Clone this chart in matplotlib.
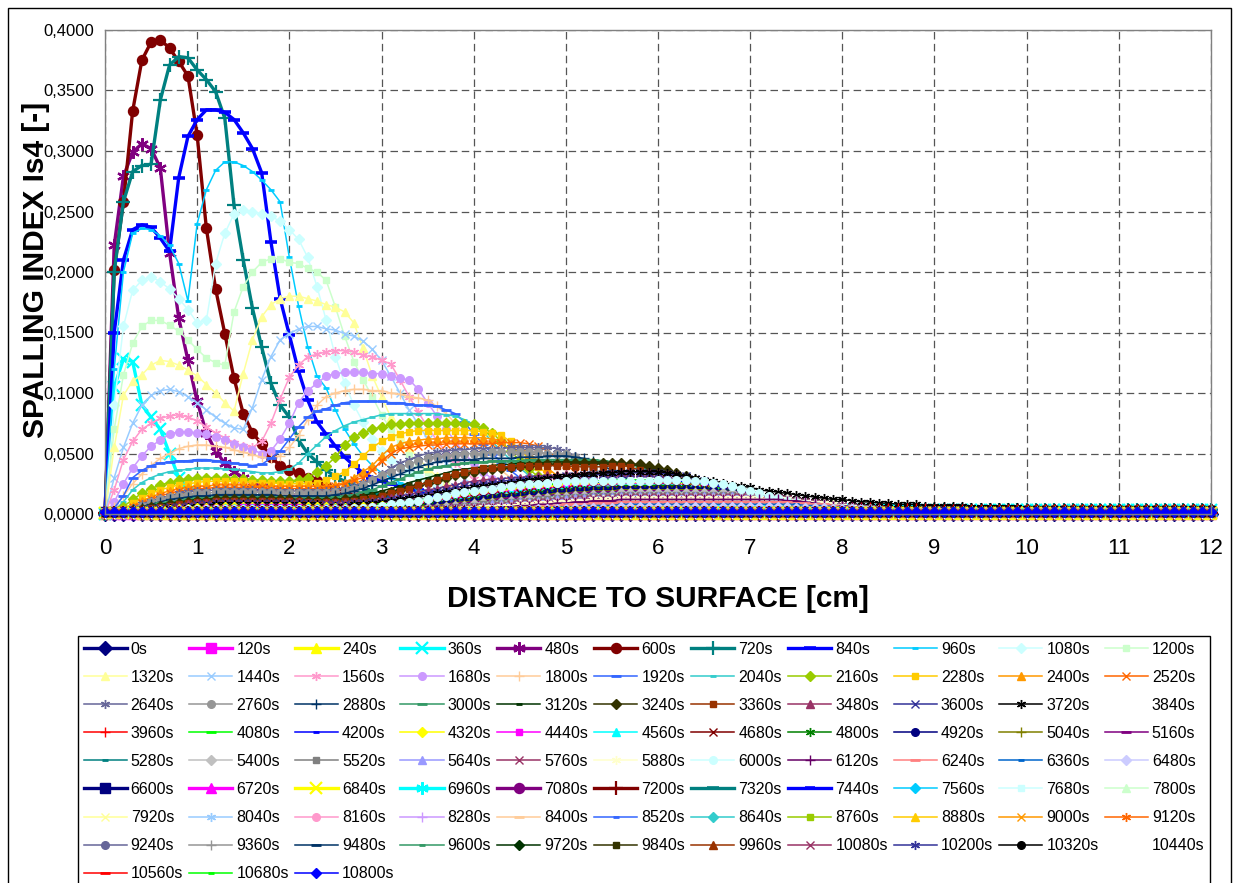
import numpy as np
import matplotlib.pyplot as plt
from matplotlib.patches import Rectangle
from matplotlib.ticker import FuncFormatter

plt.rcParams['font.family'] = ['Liberation Sans', 'DejaVu Sans']

W, H = 1239, 883

# distance from surface [cm], one node every 0.1 cm
depth = np.round(np.arange(121) * 0.1, 1)

# spalling index Is4 per time step, in 1e-3, node by node from the surface.
# beyond the listed nodes the curve stays flat at its tail value
is4_240 = [0, 3, 2, 1]
is4_360 = [0, 105, 128, 126, 90, 80, 70, 50, 30, 18, 11, 7, 5, 4, 3]
is4_480 = [0, 222, 279, 299, 306, 302, 286, 216, 162, 127, 93, 67, 52, 42, 35, 30, 26, 22, 19, 16, 13, 11, 9, 8, 7, 6, 5, 4]
is4_600 = [0, 202, 258, 333, 375, 390, 392, 385, 374, 362, 313, 236, 186, 149, 112, 83, 67, 58, 47, 40, 36, 34, 30, 27,
           23, 20, 18, 15, 13, 11, 9, 7, 6, 5, 4]
is4_720 = [0, 200, 258, 283, 288, 289, 342, 371, 378, 377, 367, 359, 349, 327, 255, 210, 170, 138, 108, 90, 80, 61, 50,
           43, 36, 31, 27, 24, 21, 17, 14, 12, 10, 9, 7, 6, 5, 4]
is4_840 = [0, 150, 210, 235, 239, 237, 228, 217, 278, 312, 326, 334, 334, 332, 326, 315, 302, 282, 225, 178, 148, 118,
           94, 76, 66, 56, 47, 40, 34, 30, 27, 25, 23, 22, 20, 18, 15, 12, 10, 8, 7, 6, 5, 4]
is4_960 = [0, 120, 200, 232, 236, 235, 230, 222, 207, 176, 240, 268, 284, 291, 291, 288, 283, 276, 268, 258, 212, 172,
           138, 114, 104, 86, 70, 58, 48, 40, 34, 30, 26, 23, 20, 18, 16, 14, 12, 10, 9, 8, 7, 6, 5, 4]
is4_1080 = [0, 90, 155, 185, 193, 196, 192, 186, 178, 169, 158, 160, 207, 232, 248, 251, 250, 248, 246, 242, 235, 227,
            212, 188, 160, 130, 108, 90, 76, 62, 52, 45, 40, 35, 31, 27, 24, 21, 18, 16, 14, 12, 10, 9, 8, 7, 6, 5, 4]
is4_1200 = [0, 70, 115, 141, 155, 160, 160, 156, 151, 144, 136, 129, 125, 123, 167, 188, 200, 208, 211, 211, 208, 207,
            203, 200, 193, 171, 147, 126, 111, 97, 82, 70, 60, 50, 42, 35, 30, 25, 21, 18, 15, 13, 11, 9, 8, 7, 6, 5, 4]
is4_1320 = [0, 55, 98, 110, 115, 123, 127, 126, 123, 119, 114, 107, 100, 92, 85, 116, 144, 163, 173, 178, 180, 180, 178,
            176, 173, 171, 167, 158, 137, 114, 97, 80, 65, 55, 46, 38, 31, 26, 21, 18, 14, 12, 10, 8, 7, 6, 5, 4]
is4_1440 = [0, 30, 55, 75, 90, 98, 102, 103, 101, 97, 92, 86, 80, 75, 71, 70, 88, 111, 130, 144, 149, 153, 155, 155,
            153, 152, 149, 147, 143, 136, 127, 114, 100, 86, 74, 62, 51, 42, 35, 29, 24, 20, 16, 13, 11, 9, 8, 7, 6, 5, 4]
is4_1560 = [0, 20, 45, 60, 70, 75, 79, 81, 82, 80, 77, 72, 67, 63, 59, 56, 55, 60, 75, 95, 113, 123, 130, 132, 134,
            135, 135, 134, 131, 130, 127, 124, 111, 97, 84, 72, 61, 51, 42, 35, 29, 24, 20, 16, 13, 11, 9, 8, 7, 6, 5, 4]
is4_1680 = [0, 10, 25, 38, 48, 56, 61, 66, 68, 68, 67, 66, 64, 61, 58, 55, 53, 50, 52, 62, 75, 92, 102, 108, 114, 116,
            117, 117, 117, 116, 116, 114, 112, 111, 103, 92, 81, 70, 60, 50, 42, 35, 29, 24, 20, 16, 13, 11, 9, 8, 7,
            6, 5, 4]
is4_1800 = [0, 6, 15, 25, 33, 40, 46, 50, 54, 56, 57, 57, 56, 55, 53, 51, 49, 47, 46, 48, 55, 65, 78, 90, 97, 100, 102,
            103, 103, 102, 102, 100, 99, 97, 96, 94, 89, 83, 75, 66, 58, 50, 43, 36, 30, 25, 21, 17, 14, 12, 10, 8, 7,
            6, 5, 4]
is4_1920 = [0, 5, 15, 30, 36, 40, 42, 43, 44, 44, 45, 45, 44, 43, 42, 41, 40, 41, 46, 52, 62, 72, 80, 85, 87, 90, 92,
            93, 93, 93, 93, 92, 92, 91, 90, 90, 89, 86, 83, 76, 66, 58, 50, 43, 36, 30, 25, 21, 17, 14, 12, 10, 8, 7,
            6, 5, 4]
is4_2040 = [0, 3, 10, 20, 26, 30, 33, 35, 36, 37, 38, 38, 38, 37, 37, 36, 35, 34, 34, 35, 37, 42, 50, 57, 64, 69, 73,
            76, 78, 80, 82, 83, 83, 83, 83, 83, 83, 82, 81, 78, 74, 68, 60, 52, 45, 38, 32, 27, 23, 19, 16, 13, 11, 9,
            8, 7, 6, 5, 4]
is4_2160 = [0, 2, 6, 12, 17, 21, 24, 26, 28, 29, 30, 30, 30, 30, 29, 29, 28, 28, 27, 27, 27, 28, 30, 35, 40, 47, 57,
            64, 67, 70, 72, 74, 74, 75, 75, 75, 75, 75, 75, 74, 74, 71, 67, 60, 52, 44, 37, 31, 26, 22, 18, 15, 13, 11,
            9, 8, 7, 6, 5, 4]
is4_2280 = [0, 1, 4, 9, 13, 17, 20, 22, 24, 25, 26, 27, 27, 27, 27, 27, 26, 26, 26, 25, 25, 25, 25, 26, 28, 31, 35,
            41, 48, 55, 60, 64, 66, 68, 69, 69, 69, 69, 69, 69, 69, 68, 67, 65, 60, 53, 46, 39, 33, 28, 23, 19, 16, 13,
            11, 9, 8, 7, 6, 5, 4]
is4_2400 = [0, 1, 3, 7, 11, 14, 17, 19, 21, 22, 23, 23, 24, 24, 24, 24, 23, 23, 23, 23, 23, 23, 23, 23, 23, 24, 26,
            30, 35, 40, 48, 55, 58, 60, 61, 62, 62, 63, 63, 63, 63, 63, 62, 61, 58, 55, 50, 44, 38, 32, 27, 23, 19, 16,
            13, 11, 9, 8, 7, 6, 5, 4]
is4_2520 = [0, 1, 3, 6, 9, 12, 15, 17, 19, 20, 21, 21, 22, 22, 22, 22, 22, 22, 21, 21, 21, 21, 21, 21, 22, 23, 25,
            28, 30, 36, 44, 50, 54, 55, 56, 57, 57, 58, 58, 58, 58, 58, 58, 59, 59, 59, 58, 56, 52, 47, 41, 35, 30, 25,
            21, 17, 14, 12, 10, 8, 7, 6, 5, 4]
is4_2640 = [0, 1, 2, 5, 8, 11, 13, 15, 17, 18, 19, 19, 20, 20, 20, 20, 20, 19, 19, 19, 19, 19, 19, 19, 19, 20, 21,
            23, 26, 29, 33, 38, 42, 45, 48, 50, 51, 52, 53, 53, 54, 54, 54, 54, 55, 55, 55, 55, 55, 54, 52, 48, 43, 37,
            31, 26, 22, 18, 15, 12, 10, 8, 7, 6, 5, 4]
is4_2760 = [0, 1, 2, 4, 7, 10, 12, 14, 15, 16, 17, 17, 18, 18, 18, 18, 18, 18, 18, 17, 17, 17, 17, 17, 17, 18, 19,
            21, 24, 28, 32, 35, 38, 41, 44, 46, 47, 48, 49, 50, 50, 50, 51, 51, 51, 51, 51, 51, 50, 50, 50, 47, 43, 38,
            33, 28, 24, 20, 17, 14, 12, 10, 8, 7, 6, 5, 4]
is4_2880 = [0, 1, 2, 4, 6, 8, 10, 12, 13, 14, 15, 15, 16, 16, 16, 16, 16, 16, 16, 15, 15, 15, 15, 15, 15, 16, 17,
            19, 21, 24, 27, 30, 33, 36, 39, 41, 43, 44, 45, 45, 45, 46, 46, 46, 46, 47, 47, 47, 48, 48, 48, 47, 46, 44,
            40, 36, 32, 28, 24, 20, 17, 14, 12, 10, 8, 7, 6, 5, 4]
is4_3000 = [0, 1, 2, 3, 5, 7, 9, 10, 11, 12, 13, 13, 14, 14, 14, 14, 14, 14, 14, 14, 13, 13, 13, 13, 13, 14, 15,
            16, 18, 20, 23, 26, 29, 32, 35, 37, 39, 40, 41, 42, 43, 43, 44, 44, 44, 44, 45, 45, 45, 45, 45, 45, 45, 45,
            44, 43, 42, 41, 39, 37, 34, 28, 23, 19, 16, 13, 11, 9, 8, 7, 6, 5, 4]
is4_3120 = [0, 1, 2, 3, 5, 7, 8, 9, 10, 11, 12, 12, 13, 13, 13, 13, 13, 13, 13, 13, 12, 12, 12, 12, 12, 12, 13, 14,
            15, 17, 19, 21, 23, 26, 28, 30, 32, 34, 36, 37, 38, 39, 40, 41, 41, 42, 42, 42, 43, 43, 43, 43, 43, 43, 43,
            42, 42, 41, 40, 38, 36, 34, 31, 28, 25, 22, 20, 18, 16, 14, 12, 11, 10, 9, 8, 7, 6, 5, 5, 4]
is4_3240 = [0, 1, 2, 3, 4, 6, 7, 8, 9, 10, 11, 11, 12, 12, 12, 12, 12, 12, 12, 12, 12, 11, 11, 11, 11, 11, 12, 12,
            13, 14, 16, 18, 20, 22, 24, 26, 28, 30, 32, 33, 35, 36, 37, 38, 39, 40, 40, 41, 41, 41, 42, 42, 42, 42, 42,
            42, 42, 41, 41, 40, 38, 36, 34, 31, 28, 25, 22, 20, 18, 16, 14, 12, 11, 10, 9, 8, 7, 6, 5, 4]
is4_3360 = [0, 1, 2, 3, 4, 5, 6, 7, 8, 9, 10, 10, 11, 11, 11, 11, 11, 11, 11, 11, 11, 11, 10, 10, 10, 10, 11, 11,
            12, 13, 15, 17, 19, 21, 24, 26, 28, 31, 33, 35, 36, 38, 38, 39, 39, 40, 40, 40, 40, 40, 40, 39, 39, 39, 39,
            40, 40, 39, 36, 34, 32, 30, 28, 26, 24, 22, 20, 18, 16, 14, 13, 11, 10, 9, 8, 7, 6, 5, 5, 4]
is4_3480 = [0, 1, 1, 2, 3, 4, 5, 6, 7, 8, 9, 9, 10, 10, 10, 10, 10, 10, 10, 10, 10, 10, 9, 9, 9, 9, 9, 10, 10, 11,
            12, 13, 15, 16, 18, 20, 21, 23, 24, 26, 27, 28, 29, 29, 30, 30, 31, 31, 32, 32, 33, 33, 33, 34, 34, 34, 35,
            35, 35, 35, 34, 33, 32, 30, 28, 26, 23, 21, 19, 17, 16, 15, 14, 13, 12, 11, 10, 9, 8, 8, 7, 6, 6, 5, 5, 4]
is4_3600 = [0, 1, 1, 2, 3, 4, 5, 6, 6, 7, 8, 8, 9, 9, 9, 9, 9, 9, 9, 9, 9, 9, 9, 8, 8, 8, 8, 9, 9, 10,
            11, 12, 13, 14, 16, 17, 19, 20, 22, 23, 24, 25, 26, 27, 28, 28, 29, 29, 30, 30, 31, 31, 32, 32, 33, 33, 33,
            34, 34, 34, 34, 33, 32, 31, 29, 27, 25, 23, 21, 19, 17, 16, 14, 13, 12, 11, 10, 9, 8, 7, 7, 6, 5, 5, 4]
is4_3720 = [0, 1, 1, 2, 3, 3, 4, 5, 5, 6, 7, 7, 8, 8, 8, 8, 8, 8, 8, 8, 8, 8, 8, 8, 7, 7, 7, 8, 8, 9,
            10, 11, 12, 13, 14, 15, 17, 18, 19, 21, 22, 23, 24, 25, 26, 27, 28, 29, 30, 31, 31, 32, 33, 33, 34, 34, 35,
            35, 35, 35, 35, 34, 33, 31, 30, 28, 27, 26, 24, 23, 22, 20, 19, 18, 17, 16, 15, 14, 13, 12, 12, 11, 10, 10,
            9, 9, 8, 8, 8, 7, 7, 7, 7, 7, 6, 6, 6, 6, 6, 6]
is4_3960 = [0, 0, 1, 1, 1, 2, 2, 2, 3, 3, 3, 3, 3, 3, 3, 3, 3, 3, 3, 3, 3, 3, 3, 3, 3, 3, 3, 3, 4, 4,
            4, 5, 5, 6, 6, 7, 7, 8, 8, 9, 9, 9, 10, 10, 10, 10, 10, 10, 10, 10, 10, 10, 10, 10, 10, 10, 10, 10, 10, 10,
            10, 10, 10, 10, 10, 10, 10, 10, 10, 10, 10, 9, 9, 9, 8, 8, 8, 7, 7, 7, 6, 6, 6, 6, 5, 5, 5, 5, 5, 5]
is4_4080 = [0, 0, 1, 2, 2, 3, 4, 4, 5, 5, 6, 6, 6, 7, 7, 7, 7, 7, 7, 7, 7, 7, 7, 6, 6, 6, 6, 6, 7, 7,
            8, 8, 9, 10, 11, 12, 13, 14, 15, 16, 17, 18, 19, 20, 21, 22, 23, 24, 24, 25, 26, 26, 27, 27, 27, 28, 28, 28,
            28, 28, 28, 28, 27, 27, 26, 25, 23, 21, 19, 17, 15, 13, 12, 10, 9, 8, 7, 6, 5, 5, 4, 4, 3, 3, 3]
is4_4200 = [0, 0, 1, 1, 2, 3, 3, 4, 4, 5, 5, 6, 6, 6, 6, 7, 7, 7, 7, 7, 7, 7, 6, 6, 6, 6, 6, 6, 6, 7,
            7, 8, 8, 9, 10, 11, 12, 13, 14, 15, 16, 17, 18, 19, 20, 20, 21, 22, 23, 23, 24, 24, 25, 25, 26, 26, 26, 27,
            27, 27, 27, 27, 27, 27, 26, 25, 24, 22, 20, 18, 16, 14, 12, 11, 10, 8, 7, 6, 6, 5, 4, 4, 3, 3, 3]
is4_4320 = [0, 0, 1, 1, 2, 2, 3, 3, 4, 4, 5, 5, 5, 6, 6, 6, 6, 6, 6, 6, 6, 6, 6, 6, 6, 5, 5, 5, 6, 6,
            7, 7, 8, 9, 10, 11, 12, 13, 14, 15, 16, 17, 18, 19, 20, 21, 21, 22, 23, 23, 24, 24, 25, 25, 25, 26, 26, 26,
            26, 26, 26, 25, 25, 24, 23, 22, 20, 18, 16, 14, 12, 11, 9, 8, 7, 6, 5, 5, 4, 4, 3, 3, 3, 3, 3]
is4_4440 = [0, 0, 1, 1, 2, 2, 3, 3, 4, 4, 4, 5, 5, 5, 5, 6, 6, 6, 6, 6, 6, 6, 5, 5, 5, 5, 5, 5, 5, 6,
            6, 7, 7, 8, 9, 10, 11, 12, 13, 14, 15, 16, 17, 18, 19, 19, 20, 21, 21, 22, 22, 23, 23, 24, 24, 24, 25, 25,
            25, 25, 25, 25, 24, 24, 23, 22, 21, 19, 17, 15, 13, 12, 10, 9, 8, 7, 6, 5, 5, 4, 4, 3, 3, 3, 3]
is4_4560 = [0, 0, 0, 1, 1, 2, 2, 3, 3, 3, 4, 4, 4, 5, 5, 5, 5, 5, 5, 5, 5, 5, 5, 5, 5, 5, 5, 5, 5, 5,
            6, 6, 7, 8, 8, 9, 10, 11, 12, 13, 14, 15, 16, 17, 18, 18, 19, 20, 20, 21, 21, 22, 22, 23, 23, 23, 24, 24,
            24, 24, 24, 24, 24, 23, 23, 22, 21, 20, 18, 16, 14, 13, 11, 10, 8, 7, 6, 5, 5, 4, 4, 3, 3, 3, 3]
is4_4680 = [0, 0, 0, 1, 1, 2, 2, 2, 3, 3, 3, 4, 4, 4, 4, 4, 5, 5, 5, 5, 5, 5, 5, 4, 4, 4, 4, 4, 5, 5,
            5, 6, 6, 7, 8, 9, 9, 10, 11, 12, 13, 14, 15, 16, 16, 17, 18, 18, 19, 20, 20, 21, 21, 22, 22, 22, 23, 23,
            23, 23, 23, 23, 23, 22, 22, 21, 20, 19, 17, 15, 14, 12, 11, 9, 8, 7, 6, 5, 4, 4, 3, 3, 3, 3, 2]
is4_4800 = [0, 0, 0, 1, 1, 1, 2, 2, 2, 3, 3, 3, 4, 4, 4, 4, 4, 4, 4, 4, 4, 4, 4, 4, 4, 4, 4, 4, 4, 4,
            5, 5, 6, 6, 7, 8, 9, 9, 10, 11, 12, 13, 14, 15, 15, 16, 17, 17, 18, 19, 19, 20, 20, 21, 21, 21, 22, 22,
            22, 22, 22, 22, 22, 22, 21, 21, 20, 19, 18, 16, 15, 13, 12, 10, 9, 8, 7, 6, 5, 4, 4, 3, 3, 3, 2]
is4_4920 = [0, 0, 0, 1, 1, 1, 2, 2, 2, 2, 3, 3, 3, 3, 4, 4, 4, 4, 4, 4, 4, 4, 4, 4, 4, 4, 4, 4, 4, 4,
            4, 5, 5, 6, 6, 7, 8, 9, 9, 10, 11, 12, 13, 14, 14, 15, 16, 16, 17, 18, 18, 19, 19, 20, 20, 20, 21, 21,
            21, 21, 21, 21, 21, 21, 21, 20, 20, 19, 18, 17, 15, 14, 12, 11, 10, 8, 7, 6, 5, 5, 4, 3, 3, 3, 2]
is4_5040 = [0, 0, 0, 0, 1, 1, 1, 2, 2, 2, 2, 3, 3, 3, 3, 3, 3, 3, 3, 4, 4, 4, 3, 3, 3, 3, 3, 3, 3, 4,
            4, 4, 5, 5, 6, 7, 7, 8, 9, 10, 10, 11, 12, 13, 13, 14, 15, 15, 16, 17, 17, 18, 18, 19, 19, 19, 20, 20,
            20, 20, 20, 20, 20, 20, 20, 20, 19, 19, 18, 17, 16, 14, 13, 11, 10, 9, 8, 7, 6, 5, 4, 4, 3, 3, 2]
is4_5160 = [0, 0, 0, 0, 1, 1, 1, 1, 2, 2, 2, 2, 3, 3, 3, 3, 3, 3, 3, 3, 3, 3, 3, 3, 3, 3, 3, 3, 3, 3,
            4, 4, 4, 5, 5, 6, 7, 7, 8, 9, 10, 10, 11, 12, 13, 13, 14, 15, 15, 16, 16, 17, 17, 18, 18, 18, 19, 19,
            19, 19, 19, 19, 19, 19, 19, 19, 19, 18, 18, 17, 16, 15, 13, 12, 11, 9, 8, 7, 6, 5, 5, 4, 3, 3, 3]
is4_5280 = [0, 0, 0, 0, 1, 1, 1, 1, 1, 2, 2, 2, 2, 2, 3, 3, 3, 3, 3, 3, 3, 3, 3, 3, 3, 3, 3, 3, 3, 3,
            3, 4, 4, 4, 5, 5, 6, 7, 7, 8, 9, 9, 10, 11, 12, 12, 13, 14, 14, 15, 15, 16, 16, 17, 17, 17, 18, 18,
            18, 18, 18, 18, 18, 18, 18, 18, 18, 18, 17, 17, 16, 15, 14, 12, 11, 10, 9, 8, 7, 6, 5, 4, 4, 3, 3]
is4_5400 = [0, 0, 0, 0, 0, 1, 1, 1, 1, 1, 2, 2, 2, 2, 2, 2, 2, 3, 3, 3, 3, 3, 3, 3, 3, 3, 3, 3, 3, 3,
            3, 3, 4, 4, 4, 5, 5, 6, 7, 7, 8, 9, 9, 10, 11, 11, 12, 13, 13, 14, 14, 15, 15, 16, 16, 16, 17, 17,
            17, 17, 17, 17, 17, 17, 17, 17, 17, 17, 17, 16, 16, 15, 14, 13, 12, 11, 9, 8, 7, 6, 5, 5, 4, 3, 3]
is4_5520 = [0, 0, 0, 0, 0, 1, 1, 1, 1, 1, 1, 2, 2, 2, 2, 2, 2, 2, 2, 2, 2, 2, 2, 2, 2, 2, 2, 2, 2, 3,
            3, 3, 3, 4, 4, 4, 5, 5, 6, 7, 7, 8, 9, 9, 10, 11, 11, 12, 12, 13, 13, 14, 14, 15, 15, 15, 16, 16,
            16, 16, 16, 16, 16, 16, 16, 16, 16, 16, 16, 16, 15, 15, 14, 13, 12, 11, 10, 9, 8, 7, 6, 5, 4, 4, 3]
is4_5640 = [0, 0, 0, 0, 0, 0, 1, 1, 1, 1, 1, 1, 1, 2, 2, 2, 2, 2, 2, 2, 2, 2, 2, 2, 2, 2, 2, 2, 2, 2,
            2, 3, 3, 3, 4, 4, 4, 5, 5, 6, 6, 7, 8, 8, 9, 10, 10, 11, 11, 12, 12, 13, 13, 14, 14, 14, 15, 15,
            15, 15, 15, 15, 15, 15, 15, 15, 15, 15, 15, 15, 15, 14, 14, 13, 12, 11, 10, 9, 8, 7, 6, 5, 5, 4, 3]
is4_5760 = [0, 0, 0, 0, 0, 0, 0, 1, 1, 1, 1, 1, 1, 1, 1, 1, 2, 2, 2, 2, 2, 2, 2, 2, 2, 2, 2, 2, 2, 2,
            2, 2, 3, 3, 3, 3, 4, 4, 5, 5, 6, 6, 7, 7, 8, 9, 9, 10, 10, 11, 11, 12, 12, 13, 13, 13, 14, 14,
            14, 14, 14, 14, 14, 14, 14, 14, 14, 14, 14, 14, 14, 14, 13, 13, 12, 11, 10, 9, 8, 7, 7, 6, 5, 4, 4]
is4_5880 = [0, 0, 0, 0, 0, 0, 0, 0, 1, 1, 1, 1, 1, 1, 1, 1, 1, 1, 1, 1, 1, 1, 1, 1, 1, 1, 1, 1, 2, 2,
            2, 2, 2, 2, 3, 3, 3, 4, 4, 5, 5, 6, 6, 7, 7, 8, 8, 9, 9, 10, 10, 11, 11, 12, 12, 12, 13, 13,
            13, 13, 13, 13, 13, 13, 13, 13, 13, 13, 13, 13, 13, 13, 13, 12, 12, 11, 10, 9, 9, 8, 7, 6, 5, 5, 4]
is4_6000 = [0, 0, 1, 1, 2, 2, 3, 3, 3, 4, 4, 4, 4, 4, 4, 4, 4, 4, 4, 4, 4, 4, 4, 4, 4, 4, 4, 5, 5, 6,
            7, 8, 9, 10, 11, 12, 14, 15, 17, 18, 19, 20, 21, 22, 23, 24, 25, 25, 26, 26, 27, 27, 27, 27, 27, 27, 27, 27,
            27, 27, 28, 28, 28, 28, 27, 27, 26, 25, 23, 21, 19, 17, 15, 13, 11, 10, 8, 7, 6, 5, 5, 4, 4, 3, 3]
is4_6120 = [0, 0, 0, 0, 0, 0, 0, 0, 0, 1, 1, 1, 1, 1, 1, 1, 1, 1, 1, 1, 1, 1, 1, 1, 1, 1, 1, 1, 1, 1,
            2, 2, 2, 2, 2, 3, 3, 3, 4, 4, 4, 5, 5, 6, 6, 7, 7, 8, 8, 9, 9, 10, 10, 11, 11, 11, 12, 12,
            12, 12, 12, 12, 12, 12, 12, 12, 12, 12, 12, 12, 12, 12, 12, 12, 11, 11, 10, 9, 8, 7, 7, 6, 5, 4, 4]
is4_6240 = [0, 0, 0, 0, 0, 0, 0, 0, 0, 0, 1, 1, 1, 1, 1, 1, 1, 1, 1, 1, 1, 1, 1, 1, 1, 1, 1, 1, 1, 1,
            1, 1, 2, 2, 2, 2, 2, 3, 3, 3, 4, 4, 4, 5, 5, 6, 6, 6, 7, 7, 8, 8, 8, 9, 9, 9, 10, 10,
            10, 10, 10, 10, 10, 10, 10, 10, 10, 10, 10, 10, 10, 10, 10, 10, 10, 9, 9, 8, 8, 7, 6, 6, 5, 4, 4]
is4_6360 = [0, 0, 0, 0, 0, 0, 0, 0, 0, 0, 1, 1, 1, 1, 1, 1, 1, 1, 1, 1, 1, 1, 1, 1, 1, 1, 1, 1, 1, 1,
            1, 1, 1, 1, 2, 2, 2, 2, 2, 3, 3, 3, 3, 4, 4, 4, 5, 5, 5, 6, 6, 6, 7, 7, 7, 7, 8, 8,
            8, 8, 8, 8, 8, 8, 8, 8, 8, 8, 8, 8, 8, 8, 8, 8, 8, 8, 7, 7, 7, 6, 6, 5, 5, 4, 4]
is4_6480 = [0, 0, 0, 0, 0, 0, 0, 0, 0, 0, 0, 0, 1, 1, 1, 1, 1, 1, 1, 1, 1, 1, 1, 1, 1, 1, 1, 1, 1, 1,
            1, 1, 1, 1, 1, 1, 2, 2, 2, 2, 2, 2, 3, 3, 3, 3, 3, 4, 4, 4, 4, 5, 5, 5, 5, 5, 6, 6,
            6, 6, 6, 6, 6, 6, 6, 6, 6, 6, 6, 6, 6, 6, 6, 6, 6, 5, 5, 5, 5, 4, 4, 4, 3]

# 6600s .. 10800s: flat lines close to zero over the whole depth
late_levels = [2, 1.5, 1, 2, 1.5, 0.5, 1, 2, 1.5, 1, 0.5, 1.5, 1, 2, 1.5, 1, 0.5, 1.5, 2, 1,
               0.5, 1.5, 1, 2, 1, 0.5, 1.5, 1, 2, 1, 0.5, 1, 0, 1, 0.5, 1.5]

times = [120 * k for k in range(91)]

# Excel 2003 automatic series colours (55 in the cycle) and marker cycle
colors = ['#000080', '#FF00FF', '#FFFF00', '#00FFFF', '#800080', '#800000', '#008080', '#0000FF', '#00CCFF',
          '#CCFFFF', '#CCFFCC', '#FFFF99', '#99CCFF', '#FF99CC', '#CC99FF', '#FFCC99', '#3366FF', '#33CCCC',
          '#99CC00', '#FFCC00', '#FF9900', '#FF6600', '#666699', '#969696', '#003366', '#339966', '#003300',
          '#333300', '#993300', '#993366', '#333399', '#000000', '#FFFFFF', '#FF0000', '#00FF00', '#0000FF',
          '#FFFF00', '#FF00FF', '#00FFFF', '#800000', '#008000', '#000080', '#808000', '#800080', '#008080',
          '#C0C0C0', '#808080', '#9999FF', '#993366', '#FFFFCC', '#CCFFFF', '#660066', '#FF8080', '#0066CC',
          '#CCCCFF']
markers = ['D', 's', '^', 'x', (6, 2, 0), 'o', '+', '_', '_']
msize = [5.5, 5.0, 6.0, 5.5, 6.5, 5.5, 7.0, 7.5, 5.0]
msize_heavy = [7.0, 6.5, 7.5, 8.0, 9.0, 7.2, 9.5, 9.0, 7.0]


def pad(vals, tail):
    return np.array(vals + [tail] * (len(depth) - len(vals)), dtype=float) / 1000.0


curves = [pad([], 0), pad([], 0), pad(is4_240, 0),
          pad(is4_360, 3), pad(is4_480, 3), pad(is4_600, 3), pad(is4_720, 3), pad(is4_840, 3), pad(is4_960, 3),
          pad(is4_1080, 3), pad(is4_1200, 3), pad(is4_1320, 3), pad(is4_1440, 3), pad(is4_1560, 3),
          pad(is4_1680, 3), pad(is4_1800, 3), pad(is4_1920, 3), pad(is4_2040, 3), pad(is4_2160, 3),
          pad(is4_2280, 3), pad(is4_2400, 3), pad(is4_2520, 3), pad(is4_2640, 3), pad(is4_2760, 3),
          pad(is4_2880, 3), pad(is4_3000, 3), pad(is4_3120, 3), pad(is4_3240, 3), pad(is4_3360, 3),
          pad(is4_3480, 3), pad(is4_3600, 3), pad(is4_3720, 5), pad([], 0), pad(is4_3960, 4),
          pad(is4_4080, 2), pad(is4_4200, 2), pad(is4_4320, 2), pad(is4_4440, 2), pad(is4_4560, 2),
          pad(is4_4680, 2), pad(is4_4800, 2), pad(is4_4920, 2), pad(is4_5040, 2), pad(is4_5160, 2),
          pad(is4_5280, 2), pad(is4_5400, 2), pad(is4_5520, 2), pad(is4_5640, 2), pad(is4_5760, 2),
          pad(is4_5880, 2), pad(is4_6000, 2), pad(is4_6120, 2), pad(is4_6240, 2), pad(is4_6360, 2),
          pad(is4_6480, 2)]
for lev in late_levels:
    curves.append(pad([], lev))

fig = plt.figure(figsize=(W / 100, H / 100), dpi=100)
ax = fig.add_axes([105 / W, 1 - 514 / H, (1211 - 105) / W, (514 - 30) / H])

lines = []
for k, y in enumerate(curves):
    c = colors[k % 55]
    heavy = (k % 55) < 8
    j = k % 9
    ms = msize_heavy[j] if heavy else msize[j]
    mew = 1.0
    if j in (3, 4, 6):
        mew = 1.6 if heavy else 1.0
    if j in (7, 8):
        mew = 2.6 if heavy else 2.0
    ln, = ax.plot(depth, y, color=c, lw=2.4 if heavy else 1.1, marker=markers[j], ms=ms,
                  mfc=c, mec=c, mew=mew, clip_on=False, label=f'{times[k]}s')
    lines.append(ln)

ax.set_xlim(0, 12)
ax.set_ylim(0, 0.4)
ax.set_xticks(range(13))
ax.set_yticks(np.arange(0, 0.4001, 0.05))
ax.yaxis.set_major_formatter(FuncFormatter(lambda v, p: f'{v:.4f}'.replace('.', ',')))
ax.grid(True, color='#555555', linestyle=(0, (6, 3.5)), lw=0.9)
ax.set_axisbelow(True)
for s in ax.spines.values():
    s.set_color('#808080')
    s.set_linewidth(1.0)
ax.tick_params(axis='x', length=4, color='#808080', labelsize=16, pad=13)
ax.tick_params(axis='y', length=0, labelsize=12, pad=8)

fig.text(658 / W, 1 - 599 / H, 'DISTANCE TO SURFACE [cm]', ha='center', va='center',
         fontsize=21.5, fontweight='bold')
fig.text(36 / W, 1 - 270 / H, 'SPALLING INDEX Is4 [-]', ha='center', va='center',
         rotation=90, fontsize=21.5, fontweight='bold')

# legend is filled row by row like Excel: reorder for matplotlib's column filling
order = [r * 11 + c for c in range(11) for r in range(9) if r * 11 + c < len(lines)]
leg = fig.legend([lines[i] for i in order], [lines[i].get_label() for i in order],
                 loc='upper left', bbox_to_anchor=(78 / W, 1 - 636 / H, (1210 - 78) / W, 0),
                 mode='expand', ncol=11, fontsize=11.5, handlelength=2.7, handletextpad=0.25,
                 labelspacing=0.82, borderpad=0.35, borderaxespad=0, fancybox=False,
                 edgecolor='black', framealpha=1)
leg.get_frame().set_linewidth(1.0)

fig.patches.append(Rectangle((8 / W, -0.05), (1231 - 8) / W, 1.05 - 8 / H, transform=fig.transFigure,
                             fill=False, edgecolor='black', lw=1.0))

fig.savefig('out.png', dpi=100)
